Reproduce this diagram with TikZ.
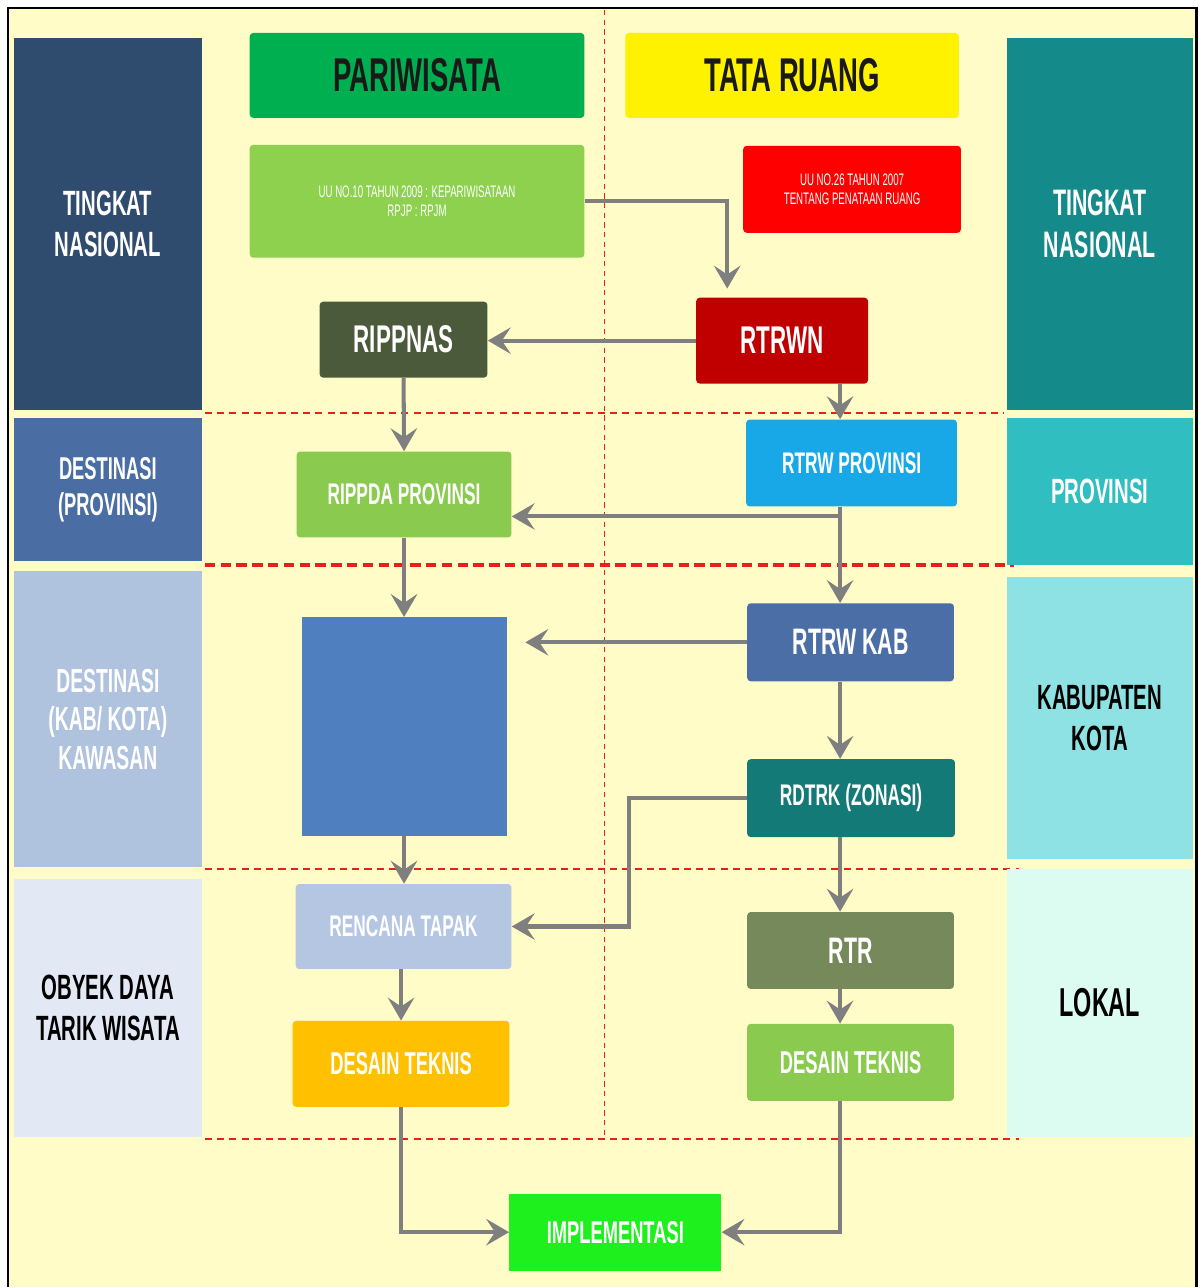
\documentclass[tikz,border=0pt]{standalone}
\usepackage{fontspec}
\setmainfont{Liberation Sans}[FakeStretch=0.58]
\usetikzlibrary{arrows.meta}
\usetikzlibrary{positioning}
\definecolor{paper}{HTML}{FFFCC8}
\definecolor{flow}{HTML}{7F7F7F}
\definecolor{zone}{HTML}{E8201C}
\definecolor{navy}{HTML}{2F4B6E}
\newcommand{\fsz}[1]{\fontsize{#1}{\fpeval{1.15*#1}}\selectfont}

\begin{document}
\begin{tikzpicture}[x=0.02cm,y=-0.02cm,>={Stealth[length=13pt,width=15pt,inset=5pt]},
    flow line/.style={->,draw=flow,line width=2.3pt},
    zone line/.style={draw=zone,dashed,line width=1.2pt,dash pattern=on 4pt off 3pt},
    sz/.style 2 args={minimum width=#1*0.02cm,minimum height=#2*0.02cm},
    level box/.style={inner sep=0pt,align=center,text=white,font=\bfseries\fsz{20}},
    plan box/.style={inner sep=0pt,align=center,text=white,rounded corners=2pt,font=\bfseries\fsz{18}}]
    % background and frame
    \fill[white] (0,0) rectangle (1202,1288);
    \fill[paper] (8,8) rectangle (1198,1288);
    \draw[line width=1.6pt] (8,1288) -- (8,8) -- (1198,8) -- (1198,1288);
    \useasboundingbox (0,0) rectangle (1202,1288);
    % zone separators
    \draw[zone line,line width=0.9pt,dash pattern=on 3pt off 2.5pt] (605,10) -- (605,1140);
    \draw[zone line] (205,413) -- (1005,413);
    \draw[zone line,line width=2.3pt,dash pattern=on 6pt off 3pt] (205,566) -- (1015,566);
    \draw[zone line] (205,870) -- (1020,870);
    \draw[zone line] (205,1140) -- (1020,1140);
    % levels, left
    \node[level box,sz={188}{372},fill=navy] (lnas) at (108,224) {TINGKAT\\NASIONAL};
    \node[level box,sz={188}{144},fill={rgb,255:red,74;green,110;blue,163},font=\bfseries\fsz{18}] (lprov) at (108,490) {DESTINASI\\(PROVINSI)};
    \node[level box,sz={188}{296},fill={rgb,255:red,175;green,194;blue,222},font=\bfseries\fsz{19}] (lkab) at (108,720) {DESTINASI\\(KAB/ KOTA)\\KAWASAN};
    \node[level box,sz={188}{258},fill={rgb,255:red,227;green,233;blue,244},text=black] (lobj) at (108,1009) {OBYEK DAYA\\TARIK WISATA};
    % levels, right
    \node[level box,sz={186}{372},fill={rgb,255:red,20;green,139;blue,138},font=\bfseries\fsz{21}] (rnas) at (1101,224) {TINGKAT\\NASIONAL};
    \node[level box,sz={186}{148},fill={rgb,255:red,49;green,190;blue,193}] (rprov) at (1101,492) {PROVINSI};
    \node[level box,sz={186}{282},fill={rgb,255:red,143;green,226;blue,227},text=black] (rkab) at (1101,719) {KABUPATEN\\KOTA};
    \node[level box,sz={186}{268},fill={rgb,255:red,220;green,252;blue,242},text=black,font=\bfseries\fsz{23}] (rlok) at (1101,1004) {LOKAL};
    % headers
    \node[plan box,sz={335}{85},fill={rgb,255:red,0;green,176;blue,80},text=black!90,font=\bfseries\fsz{27}] (pari) at (417.5,75.5) {PARIWISATA};
    \node[plan box,sz={334}{85},fill=yellow,text=black!90,font=\bfseries\fsz{27}] (tata) at (793,75.5) {TATA RUANG};
    % tourism side
    \node[plan box,sz={335}{113},fill={rgb,255:red,142;green,209;blue,79},font=\fsz{9.5}] (uu10) at (417.5,201.5) {UU NO.10 TAHUN 2009 : KEPARIWISATAAN\\RPJP : RPJM};
    \node[plan box,sz={168}{76},fill={rgb,255:red,74;green,90;blue,58},font=\bfseries\fsz{22}] (rippnas) at (404,340) {RIPPNAS};
    \node[plan box,sz={215}{86},fill={rgb,255:red,138;green,203;blue,79},font=\bfseries\fsz{17}] (rippda) at (404.5,495) {RIPPDA PROVINSI};
    \node[plan box,sz={206}{219},fill={rgb,255:red,79;green,127;blue,191},rounded corners=0pt] (blank) at (405,727.5) {};
    \node[plan box,sz={216}{85},fill={rgb,255:red,180;green,198;blue,226},font=\bfseries\fsz{17}] (tapak) at (404,927.5) {RENCANA TAPAK};
    \node[plan box,sz={217}{86},fill={rgb,255:red,255;green,192;blue,0}] (dtl) at (401.5,1065) {DESAIN TEKNIS};
    % spatial planning side
    \node[plan box,sz={218}{87},fill=red,font=\fsz{9.5}] (uu26) at (853,189.5) {UU NO.26 TAHUN 2007\\TENTANG PENATAAN RUANG};
    \node[plan box,sz={172}{86},fill={rgb,255:red,192;green,0;blue,0},font=\bfseries\fsz{22}] (rtrwn) at (783,341) {RTRWN};
    \node[plan box,sz={211}{87},fill={rgb,255:red,24;green,168;blue,232},font=\bfseries\fsz{17}] (rtrwprov) at (852.5,463.5) {RTRW PROVINSI};
    \node[plan box,sz={207}{78},fill={rgb,255:red,75;green,110;blue,166},font=\bfseries\fsz{21}] (rtrwkab) at (851.5,643) {RTRW KAB};
    \node[plan box,sz={208}{78},fill={rgb,255:red,20;green,122;blue,120},font=\bfseries\fsz{17}] (rdtrk) at (852,799) {RDTRK (ZONASI)};
    \node[plan box,sz={207}{77},fill={rgb,255:red,118;green,137;blue,90},font=\bfseries\fsz{21}] (rtr) at (851.5,951.5) {RTR};
    \node[plan box,sz={207}{77},fill={rgb,255:red,138;green,203;blue,79}] (dtr) at (851.5,1063.5) {DESAIN TEKNIS};
    \node[plan box,sz={212}{77},fill={rgb,255:red,30;green,240;blue,30},rounded corners=0pt] (impl) at (616,1233.5) {IMPLEMENTASI};
    % helper coordinates
    \coordinate (drop) at (728,0);
    \coordinate (spine) at (841,0);
    \coordinate (fork) at (841,517);
    \coordinate (bend) at (630,0);
    % connectors
    \draw[flow line,shorten >=5pt] (uu10.east) -| (rtrwn.north -| drop);
    \draw[flow line] (rtrwn.west) -- (rtrwn.west -| rippnas.east);
    \draw[flow line] (rtrwn.south -| spine) -- (rtrwprov.north -| spine);
    \draw[flow line] (rippnas.south) -- (rippda.north);
    \draw[flow line] (rtrwprov.south -| spine) -- (rtrwkab.north -| spine);
    \draw[flow line] (fork) -- (fork -| rippda.east);
    \draw[flow line] (rippda.south) -- (rippda.south |- blank.north);
    \draw[flow line,shorten >=10pt] (rtrwkab.west) -- (rtrwkab.west -| blank.east);
    \draw[flow line] (rtrwkab.south -| spine) -- (rdtrk.north -| spine);
    \draw[flow line] (rdtrk.west) -| (bend |- tapak.east) -- (tapak.east);
    \draw[flow line] (blank.south -| rippda.south) -- (tapak.north -| rippda.south);
    \draw[flow line] (rdtrk.south -| spine) -- (rtr.north -| spine);
    \draw[flow line] (tapak.south -| dtl.north) -- (dtl.north);
    \draw[flow line] (rtr.south -| spine) -- (dtr.north -| spine);
    \draw[flow line] (dtl.south) |- (impl.west);
    \draw[flow line] (dtr.south -| spine) |- (impl.east);
\end{tikzpicture}
\end{document}
